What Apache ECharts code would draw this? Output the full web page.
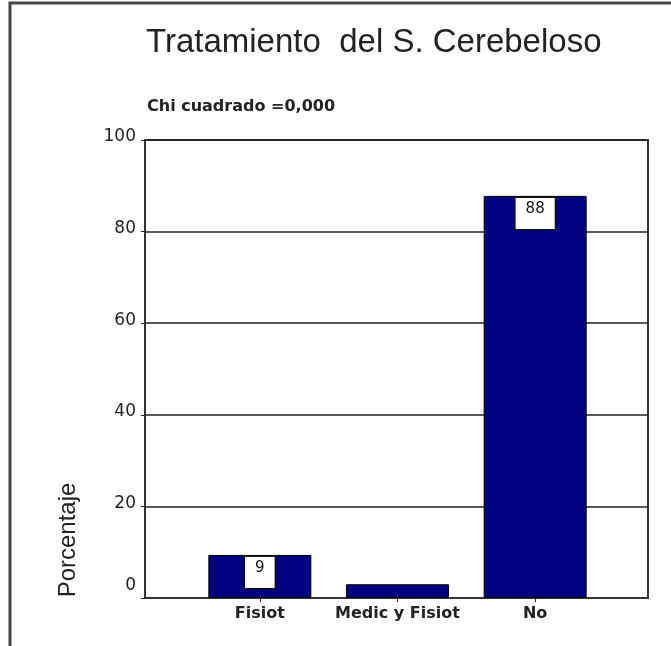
<!DOCTYPE html>
<html>
<head>
<meta charset="utf-8">
<script src="https://cdn.jsdelivr.net/npm/echarts@6/dist/echarts.min.js"></script>
<style>
  html, body { margin: 0; padding: 0; background: #fff; }
  #chartdata { width: 671px; height: 646px; }
</style>
</head>
<body>
<div id="chartdata"></div>
<script>
var categorias = ['Fisiot', 'Medic y Fisiot', 'No']
var porcentajes = [9.4, 3.0, 87.8]
var etiquetas = ['9', '', '88']
var yTicks = [0, 20, 40, 60, 80, 100]

var chart = echarts.init(document.getElementById('chartdata'))
var texto = '#222'

var option = {
  animation: false,
  backgroundColor: '#fff',
  title: [
    {
      text: 'Tratamiento  del S. Cerebeloso',
      left: 141,
      top: 21,
      textStyle: { fontFamily: 'Liberation Sans', fontSize: 33, fontWeight: 'normal', color: texto }
    },
    {
      text: 'Chi cuadrado =0,000',
      left: 142,
      top: 94,
      textStyle: { fontFamily: 'DejaVu Sans', fontSize: 16, fontWeight: 'bold', color: '#222' }
    }
  ],
  graphic: [
    {
      type: 'rect',
      shape: { x: 10, y: 3, width: 700, height: 700 },
      style: { fill: 'none', stroke: '#444', lineWidth: 3 },
      silent: true
    },
    {
      type: 'text',
      x: 68,
      y: 540,
      rotation: Math.PI / 2,
      style: {
        text: 'Porcentaje',
        align: 'center',
        verticalAlign: 'middle',
        font: '24px "Liberation Sans"',
        fill: texto
      }
    }
  ],
  grid: [
    // marco del grafico con las lineas horizontales
    { left: 145, right: 23, top: 140, bottom: 48, show: true, borderColor: '#333', borderWidth: 2 },
    // zona de las barras
    { left: 191, right: 67, top: 140, bottom: 48 }
  ],
  xAxis: [
    {
      gridIndex: 0,
      type: 'category',
      data: categorias,
      axisLine: { lineStyle: { color: '#333', width: 2 } },
      axisTick: { show: false },
      axisLabel: { show: false }
    },
    {
      gridIndex: 1,
      type: 'category',
      data: categorias,
      axisLine: { show: false },
      axisTick: { show: true, alignWithLabel: true, length: 4, lineStyle: { color: '#222' } },
      axisLabel: {
        interval: 0,
        hideOverlap: false,
        margin: 8,
        fontFamily: 'DejaVu Sans',
        fontSize: 16,
        fontWeight: 'bold',
        color: '#222'
      }
    }
  ],
  yAxis: [
    {
      gridIndex: 0,
      type: 'value',
      min: yTicks[0],
      max: yTicks[yTicks.length - 1],
      interval: yTicks[1] - yTicks[0],
      axisLine: { show: true, lineStyle: { color: '#333', width: 2 } },
      axisTick: { show: true, length: 4, lineStyle: { color: '#222' } },
      splitLine: { show: true, lineStyle: { color: '#222', width: 1.5 } },
      axisLabel: {
        margin: 9,
        formatter: function (v) {
          return v === 0 ? '{z|0}' : '{n|' + v + '}'
        },
        rich: {
          n: { fontFamily: 'DejaVu Sans', fontSize: 17, color: texto, padding: [0, 0, 6, 0] },
          z: { fontFamily: 'DejaVu Sans', fontSize: 17, color: texto, padding: [0, 0, 24, 0] }
        }
      }
    },
    {
      gridIndex: 1,
      type: 'value',
      min: yTicks[0],
      max: yTicks[yTicks.length - 1],
      show: false
    }
  ],
  series: [
    {
      name: 'Porcentaje',
      type: 'bar',
      xAxisIndex: 1,
      yAxisIndex: 1,
      barWidth: 103,
      data: porcentajes.map(function (v, i) {
        return { value: v, label: { show: etiquetas[i] !== '' } }
      }),
      itemStyle: { color: '#000080', borderColor: '#000', borderWidth: 1 },
      label: {
        position: 'insideTop',
        distance: 2,
        formatter: function (p) {
          return etiquetas[p.dataIndex]
        },
        fontFamily: 'DejaVu Sans',
        fontSize: 15,
        color: '#111',
        backgroundColor: '#fff',
        borderColor: '#111',
        borderWidth: 1.5,
        padding: [4, 10, 12, 10]
      }
    }
  ]
}

chart.setOption(option)
</script>
</body>
</html>
